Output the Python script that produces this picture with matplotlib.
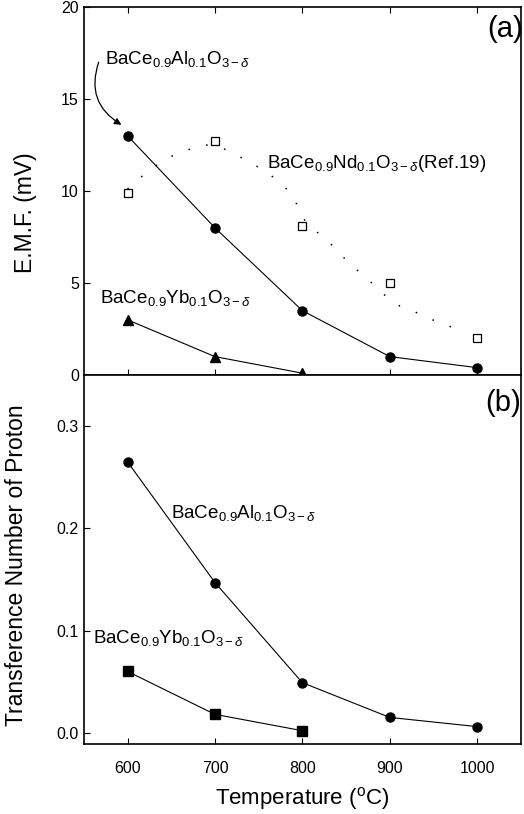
import numpy as np
import matplotlib.pyplot as plt

plt.rcParams['font.family'] = ['Liberation Sans', 'DejaVu Sans']
plt.rcParams['mathtext.fontset'] = 'custom'
plt.rcParams['mathtext.rm'] = 'Liberation Sans'
plt.rcParams['mathtext.it'] = 'Liberation Sans:italic'

# data
temp = [600, 700, 800, 900, 1000]
emf_al = [13.0, 8.0, 3.5, 1.0, 0.4]
emf_yb = [3.0, 1.0, 0.1]
emf_nd = [9.9, 12.7, 8.1, 5.0, 2.0]
# dotted guide curve for the Nd data (dots)
guide_t = [600, 611, 625, 636, 655, 673, 690, 710, 739, 760, 776, 788, 804, 833, 855, 873, 890, 909, 926, 943, 966, 985]
guide_v = [10.1, 10.6, 11.1, 11.5, 12.0, 12.3, 12.5, 12.3, 11.6, 11.0, 10.4, 9.8, 8.3, 7.1, 6.0, 5.3, 4.5, 3.8, 3.5, 3.1, 2.7, 2.3]

tn_al = [0.265, 0.147, 0.049, 0.015, 0.006]
tn_yb = [0.060, 0.018, 0.002]

al_lbl = r'BaCe$_{0.9}$Al$_{0.1}$O$_{3-\delta}$'
yb_lbl = r'BaCe$_{0.9}$Yb$_{0.1}$O$_{3-\delta}$'
nd_lbl = r'BaCe$_{0.9}$Nd$_{0.1}$O$_{3-\delta}$(Ref.19)'

fig = plt.figure(figsize=(5.24, 8.14), dpi=100)
ax1 = fig.add_axes([0.160, 0.5393, 0.834, 0.4521])
ax2 = fig.add_axes([0.160, 0.0860, 0.834, 0.4533])

# (a) EMF
ax1.plot(temp, emf_al, 'k-', marker='o', ms=6.5, lw=0.8)
ax1.plot(temp[:3], emf_yb, 'k-', marker='^', ms=6.5, lw=0.8)
ax1.plot(guide_t, guide_v, color='k', lw=1.1, linestyle=(0, (1, 11)))
ax1.plot(temp, emf_nd, 'ks', mfc='white', ms=6, mew=0.9, ls='none')
ax1.set_xlim(550, 1050)
ax1.set_ylim(0, 20)
ax1.set_yticks([0, 5, 10, 15, 20])
ax1.set_xticks(temp)
ax1.tick_params(labelbottom=False, top=True, direction='in', length=4, labelsize=11.5)
ax1.set_ylabel('E.M.F. (mV)', fontsize=16.5)
ax1.yaxis.set_label_coords(-0.108, 0.44)
ax1.text(1.005, 0.94, '(a)', transform=ax1.transAxes, fontsize=21, ha='right', va='center')
ax1.text(574, 17.2, al_lbl, fontsize=13.5, ha='left', va='center')
ax1.annotate('', xy=(593, 13.6), xytext=(567, 17.0),
             arrowprops=dict(arrowstyle='-|>', color='k', lw=0.9, mutation_scale=10,
                             connectionstyle='arc3,rad=0.4', shrinkA=0, shrinkB=0))
ax1.text(759, 11.5, nd_lbl, fontsize=13.5, ha='left', va='center')
ax1.text(568, 4.2, yb_lbl, fontsize=13.5, ha='left', va='center')

# (b) transference number
ax2.plot(temp, tn_al, 'k-', marker='o', ms=6.5, lw=0.8)
ax2.plot(temp[:3], tn_yb, 'k-', marker='s', ms=6.5, lw=0.8)
ax2.set_xlim(550, 1050)
ax2.set_ylim(-0.011, 0.35)
ax2.set_yticks([0.0, 0.1, 0.2, 0.3])
ax2.set_xticks(temp)
ax2.tick_params(direction='in', length=4, labelsize=11.5)
ax2.tick_params(axis='x', pad=12)
ax2.set_ylabel('Transference Number of Proton', fontsize=16.5)
ax2.yaxis.set_label_coords(-0.128, 0.485)
ax2.set_xlabel(r'Temperature ($^{\rm o}$C)', fontsize=16, labelpad=7)
ax2.text(1.0, 0.925, '(b)', transform=ax2.transAxes, fontsize=21, ha='right', va='center')
ax2.text(650, 0.2146, al_lbl, fontsize=13.5, ha='left', va='center')
ax2.text(560, 0.0927, yb_lbl, fontsize=13.5, ha='left', va='center')

for ax in (ax1, ax2):
    for s in ax.spines.values():
        s.set_linewidth(1.2)

fig.savefig('out.png', dpi=100)
